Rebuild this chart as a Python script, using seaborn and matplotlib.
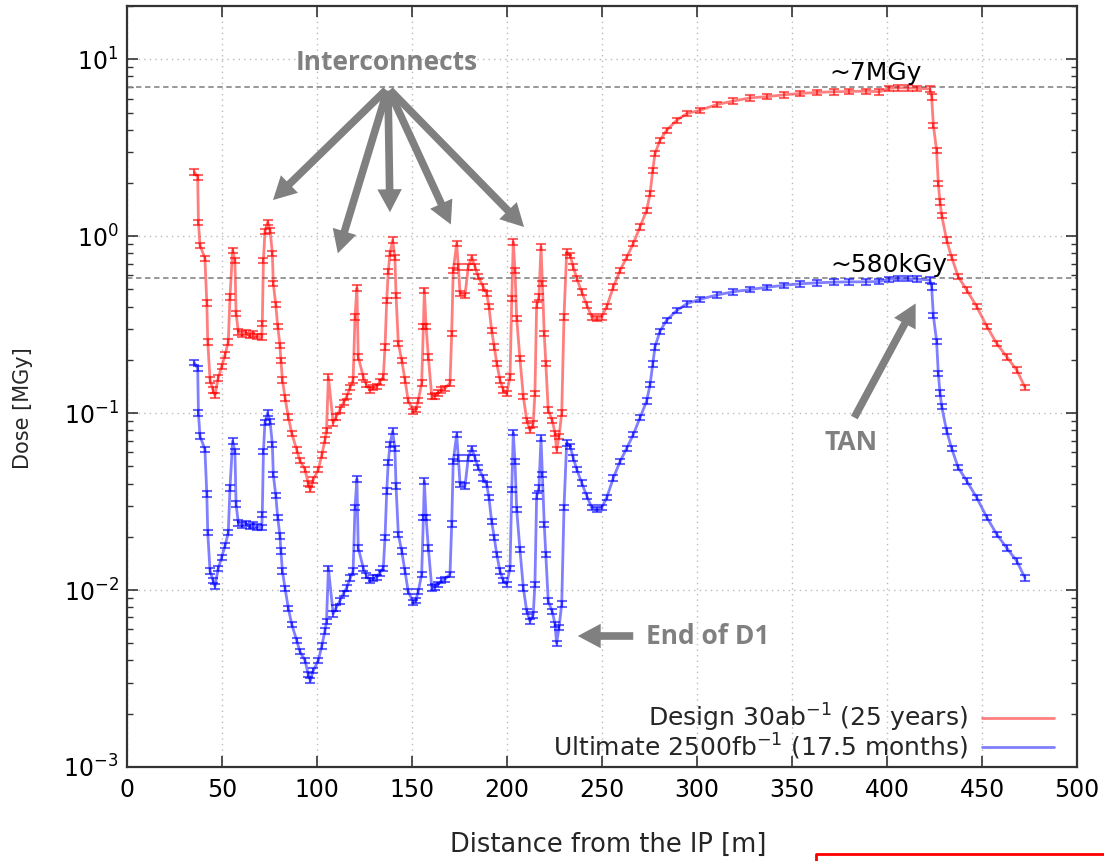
import matplotlib
matplotlib.use("Agg")
import matplotlib.pyplot as plt
import seaborn as sns
import pandas as pd
import numpy as np
from matplotlib.lines import Line2D
from matplotlib.ticker import LogLocator, NullFormatter

# ---------------- data ----------------
distance_m = [
    35.4, 37.2, 37.6, 38.4, 41.0, 42.0, 42.5, 43.7, 45.3, 46.3,
    48.0, 49.8, 51.6, 53.3, 54.2, 55.6, 56.8, 57.4, 58.6, 60.5,
    62.5, 64.5, 66.5, 68.5, 70.9, 71.2, 71.8, 72.6, 74.0, 75.3,
    76.5, 77.0, 78.3, 79.3, 80.5, 81.0, 81.8, 83.2, 84.9, 86.7,
    89.3, 91.0, 93.7, 95.4, 96.5, 98.0, 100.7, 102.5, 104.2, 105.0,
    106.0, 108.5, 110.0, 112.0, 114.0, 115.6, 117.5, 119.0, 120.0, 121.0,
    121.7, 124.4, 126.0, 127.9, 129.5, 131.4, 133.0, 134.9, 135.8, 136.7,
    137.5, 138.4, 139.8, 141.0, 141.6, 142.8, 144.6, 146.3, 148.0, 150.7,
    152.0, 153.3, 155.1, 156.0, 156.5, 157.4, 158.6, 160.4, 162.0, 163.8,
    165.5, 167.4, 170.0, 170.9, 171.7, 173.5, 174.4, 175.3, 177.9, 179.6,
    181.4, 183.2, 184.9, 187.5, 189.3, 190.5, 191.9, 193.3, 194.6, 196.3,
    198.1, 199.8, 201.6, 202.5, 203.3, 204.2, 205.1, 206.8, 208.6, 210.4,
    212.1, 213.8, 214.7, 215.6, 216.8, 217.9, 218.6, 219.6, 220.4, 221.7,
    223.8, 225.3, 226.1, 227.4, 228.8, 230.0, 231.4, 233.2, 234.9, 236.7,
    239.3, 242.0, 244.6, 247.2, 249.8, 252.5, 256.0, 259.5, 263.0, 266.5,
    270.0, 273.5, 275.3, 276.7, 277.9, 280.5, 284.0, 289.3, 294.6, 301.6,
    310.4, 319.0, 328.0, 337.0, 346.0, 354.0, 363.0, 372.0, 380.0, 389.0,
    396.0, 401.0, 406.0, 411.0, 416.0, 422.6, 423.5, 424.4, 426.1, 427.0,
    427.9, 428.8, 431.4, 434.0, 437.5, 442.0, 447.2, 452.5, 457.7, 463.0,
    468.3, 472.6,
]

dose_design = [
    2.31, 2.15, 1.20, 0.89, 0.75, 0.42, 0.253, 0.154, 0.135, 0.126,
    0.158, 0.183, 0.213, 0.253, 0.454, 0.834, 0.73, 0.367, 0.288, 0.28,
    0.285, 0.275, 0.28, 0.272, 0.27, 0.32, 0.73, 1.06, 1.20, 1.08,
    0.80, 0.54, 0.41, 0.31, 0.242, 0.199, 0.154, 0.122, 0.095, 0.077,
    0.062, 0.054, 0.048, 0.040, 0.037, 0.042, 0.048, 0.058, 0.0705, 0.080,
    0.160, 0.088, 0.095, 0.104, 0.115, 0.124, 0.140, 0.154, 0.35, 0.51,
    0.208, 0.16, 0.145, 0.135, 0.14, 0.141, 0.15, 0.16, 0.237, 0.435,
    0.63, 0.80, 0.95, 0.76, 0.464, 0.248, 0.199, 0.154, 0.118, 0.102,
    0.105, 0.118, 0.148, 0.31, 0.495, 0.31, 0.208, 0.124, 0.125, 0.13,
    0.135, 0.138, 0.148, 0.283, 0.64, 0.91, 0.67, 0.475, 0.464, 0.67,
    0.76, 0.67, 0.59, 0.517, 0.475, 0.40, 0.294, 0.237, 0.191, 0.154,
    0.135, 0.129, 0.16, 0.445, 0.93, 0.64, 0.342, 0.204, 0.124, 0.091,
    0.080, 0.087, 0.129, 0.408, 0.454, 0.87, 0.54, 0.282, 0.191, 0.104,
    0.091, 0.077, 0.062, 0.074, 0.10, 0.35, 0.815, 0.78, 0.67, 0.577,
    0.485, 0.408, 0.35, 0.342, 0.35, 0.40, 0.517, 0.64, 0.76, 0.91,
    1.13, 1.40, 1.74, 2.36, 2.93, 3.48, 3.97, 4.52, 4.93, 5.15,
    5.55, 5.8, 6.05, 6.15, 6.3, 6.4, 6.5, 6.55, 6.58, 6.6,
    6.55, 6.85, 6.9, 6.88, 6.85, 6.8, 6.12, 4.24, 3.06, 1.98,
    1.56, 1.31, 0.95, 0.76, 0.59, 0.496, 0.40, 0.31, 0.248, 0.208,
    0.175, 0.14,
]

dose_ultimate = [
    0.193, 0.179, 0.100, 0.0742, 0.0625, 0.035, 0.0211, 0.0128, 0.0113, 0.0105,
    0.0132, 0.0153, 0.0178, 0.0211, 0.0378, 0.0695, 0.0608, 0.0306, 0.024, 0.0233,
    0.0238, 0.0229, 0.0233, 0.0227, 0.0225, 0.0267, 0.0608, 0.0883, 0.100, 0.090,
    0.0667, 0.045, 0.0342, 0.0258, 0.0202, 0.0166, 0.0128, 0.0102, 0.0079, 0.0064,
    0.0052, 0.0045, 0.0040, 0.00333, 0.00308, 0.0035, 0.0040, 0.00483, 0.00588, 0.00667,
    0.0133, 0.00733, 0.00792, 0.00867, 0.00958, 0.0103, 0.0117, 0.0128, 0.0292, 0.0425,
    0.0173, 0.0133, 0.0121, 0.0113, 0.0117, 0.0118, 0.0125, 0.0133, 0.0198, 0.0363,
    0.0525, 0.0667, 0.0792, 0.0633, 0.0387, 0.0207, 0.0166, 0.0128, 0.00983, 0.0085,
    0.00875, 0.00983, 0.0123, 0.0258, 0.0413, 0.0258, 0.0173, 0.0103, 0.0104, 0.0108,
    0.0113, 0.0115, 0.0123, 0.0236, 0.0533, 0.0758, 0.0558, 0.0396, 0.0387, 0.0558,
    0.0633, 0.0558, 0.0492, 0.0431, 0.0396, 0.0333, 0.0245, 0.0198, 0.0159, 0.0128,
    0.0113, 0.0108, 0.0133, 0.0371, 0.0775, 0.0533, 0.0285, 0.017, 0.0103, 0.00758,
    0.00667, 0.00725, 0.0108, 0.034, 0.0378, 0.0725, 0.045, 0.0235, 0.0159, 0.00867,
    0.00758, 0.0064, 0.0050, 0.00617, 0.00833, 0.0292, 0.068, 0.065, 0.0558, 0.0481,
    0.0404, 0.034, 0.0292, 0.0285, 0.0292, 0.0333, 0.0431, 0.0533, 0.0633, 0.0758,
    0.0942, 0.117, 0.145, 0.19, 0.237, 0.29, 0.335, 0.38, 0.415, 0.44,
    0.465, 0.485, 0.50, 0.515, 0.528, 0.538, 0.545, 0.55, 0.552, 0.552,
    0.555, 0.57, 0.577, 0.575, 0.572, 0.565, 0.517, 0.356, 0.255, 0.168,
    0.13, 0.109, 0.0792, 0.0633, 0.0492, 0.0413, 0.0333, 0.0258, 0.0207, 0.0173,
    0.0146, 0.0117,
]

series_labels = ["Design 30ab$^{-1}$ (25 years)",
                 "Ultimate 2500fb$^{-1}$ (17.5 months)"]
series_colors = ["#ff0000", "#0000ff"]
x_ticks = [0, 50, 100, 150, 200, 250, 300, 350, 400, 450, 500]
ref_levels = [7.0, 0.58]
ref_texts = ["~7MGy", "~580kGy"]

# ---------------- figure ----------------
sns.set_theme(style="white")
plt.rcParams["font.family"] = ["DejaVu Sans"]
plt.rcParams["mathtext.fontset"] = "dejavusans"

W, H = 1104, 861
fig = plt.figure(figsize=(W / 100, H / 100), dpi=100)
fig.patch.set_facecolor("white")


def P(x, y):
    return (x / W, 1 - y / H)


ax = fig.add_axes([127 / W, 1 - 767 / H, 950 / W, 761 / H])
ax.set_facecolor("white")

n = len(distance_m)
df = pd.DataFrame({
    "distance": distance_m * 2,
    "dose": dose_design + dose_ultimate,
    "series": [series_labels[0]] * n + [series_labels[1]] * n,
})

sns.lineplot(data=df, x="distance", y="dose", hue="series",
             palette=series_colors, estimator=None, sort=False,
             linewidth=2.0, alpha=0.5, legend=False, ax=ax)

for vals, col in zip([dose_design, dose_ultimate], series_colors):
    v = np.asarray(vals)
    ax.errorbar(distance_m, v, yerr=0.035 * v, fmt="none", ecolor=col,
                alpha=0.6, elinewidth=1.5, capsize=3.5, capthick=1.5)

ax.set_yscale("log")
ax.set_xlim(0, 500)
ax.set_ylim(1e-3, 20)
ax.set_xticks(x_ticks)
ax.set_xticklabels([str(t) for t in x_ticks])
ax.yaxis.set_major_locator(LogLocator(base=10, numticks=10))
ax.yaxis.set_minor_locator(LogLocator(base=10, subs=np.arange(2, 10), numticks=20))
ax.yaxis.set_minor_formatter(NullFormatter())
ax.xaxis.set_minor_locator(plt.NullLocator())

ax.tick_params(which="both", direction="in", top=True, right=True,
               bottom=True, left=True, color="#333333")
ax.tick_params(which="major", length=8, width=1.2, labelsize=17,
               labelcolor="black", pad=6)
ax.tick_params(which="minor", length=4, width=1.0)
ax.tick_params(axis="x", pad=8)

for sp in ax.spines.values():
    sp.set_color("#333333")
    sp.set_linewidth(1.6)

ax.grid(True, which="major", linestyle=(0, (1, 3)), color="#bbbbbb", linewidth=1.0)
ax.set_axisbelow(True)

for lvl in ref_levels:
    ax.axhline(lvl, color="#909090", linestyle=(0, (3, 2)), linewidth=1.3, zorder=1)

# reference value texts
fig.text(*P(876, 73), ref_texts[0], ha="center", va="center", fontsize=18, color="black")
fig.text(*P(889, 265), ref_texts[1], ha="center", va="center", fontsize=18, color="black")

# axis labels
ax.set_xlabel("")
ax.set_ylabel("")
fig.text(*P(23, 408), "Dose [MGy]", rotation=90, ha="center", va="center", fontsize=15)
fig.text(*P(608, 845), "Distance from the IP [m]", ha="center", va="center", fontsize=18.5)

# legend
handles = [Line2D([0], [0], color=c, lw=2, alpha=0.5) for c in series_colors]
fig.legend(handles, series_labels, loc="center right",
           bbox_to_anchor=P(1054, 732), bbox_transform=fig.transFigure,
           frameon=False, markerfirst=False, fontsize=18, handlelength=2.9,
           handletextpad=0.55, labelspacing=-0.1, borderpad=0, borderaxespad=0)

# annotations
ann_col = "#808080"
ann_font = dict(family=["Open Sans", "DejaVu Sans"], weight="bold", color=ann_col)


def arrow(tail, head):
    fig.add_artist(matplotlib.patches.FancyArrowPatch(
        P(*tail), P(*head), transform=fig.transFigure,
        arrowstyle="simple,head_width=1.6,head_length=1.5,tail_width=0.5",
        mutation_scale=11, color=ann_col, linewidth=0, zorder=10))


fig.text(*P(387, 62), "Interconnects", ha="center", va="center", fontsize=19, **ann_font)
src = (388, 88)
for head in [(271, 202), (337, 256), (390, 215), (452, 227), (526, 229)]:
    arrow(src, head)

fig.text(*P(851, 443), "TAN", ha="center", va="center", fontsize=19, **ann_font)
arrow((853, 420), (917, 301))

fig.text(*P(646, 636), "End of D1", ha="left", va="center", fontsize=19, **ann_font)
arrow((636, 636), (575, 636))

# red frame fragment at bottom right
fig.add_artist(Line2D([816 / W, 816 / W, 1.01], [-0.01, 1 - 854 / H, 1 - 854 / H],
                      color="red", lw=2, transform=fig.transFigure))

fig.savefig("out.png", dpi=100, facecolor="white")
